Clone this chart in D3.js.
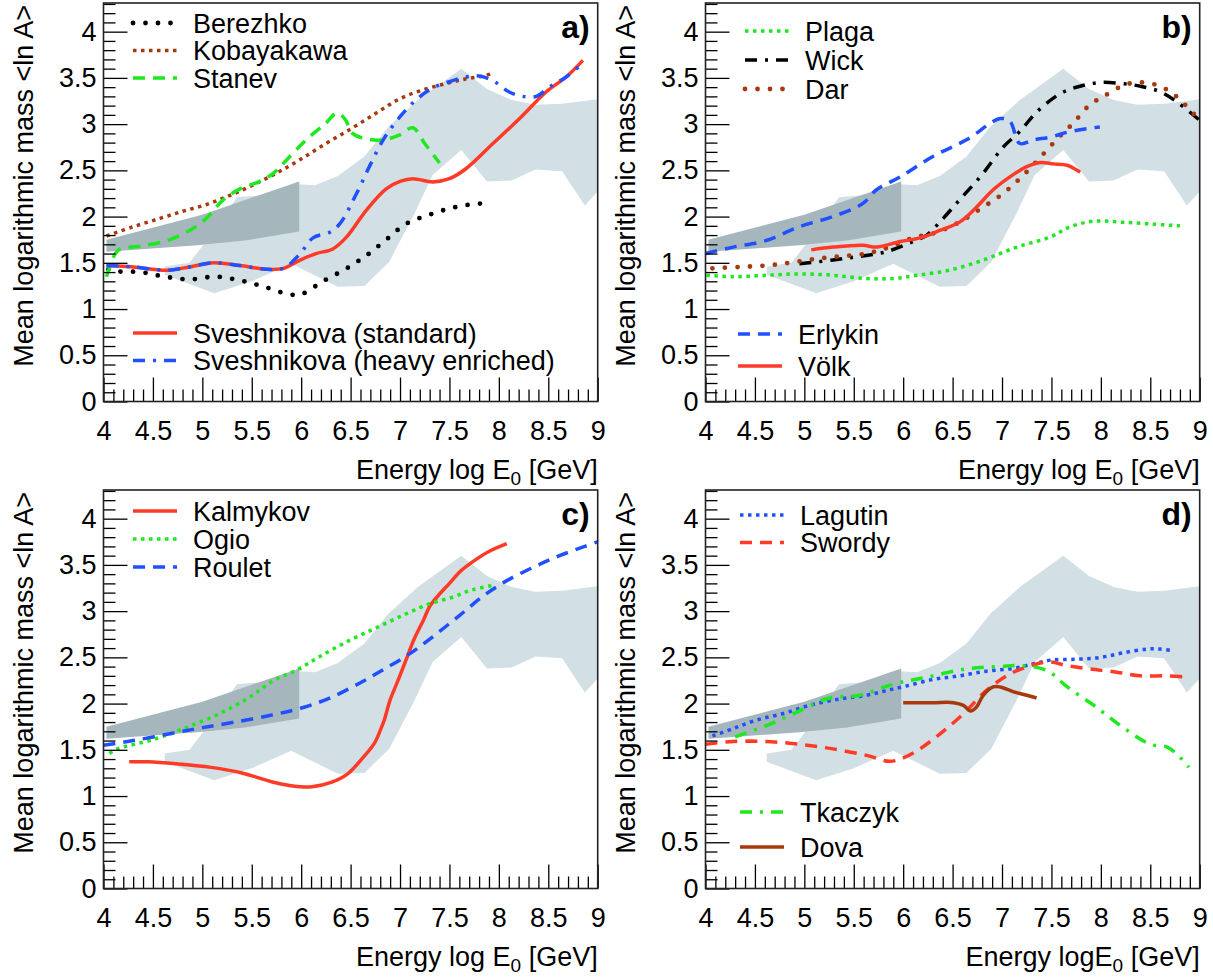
<!DOCTYPE html>
<html>
<head>
<meta charset="utf-8">
<script src="https://cdn.jsdelivr.net/npm/d3@7"></script>
<style>
  body { margin: 0; background: #fff; }
  svg { display: block; font-family: "Liberation Sans", Arial, Helvetica, sans-serif; }
</style>
</head>
<body>
<div id="chart"></div>
<script>
// axis ticks
const xMajor = [4, 4.5, 5, 5.5, 6, 6.5, 7, 7.5, 8, 8.5, 9];
const xTickLabels = ["4", "4.5", "5", "5.5", "6", "6.5", "7", "7.5", "8", "8.5", "9"];
const yMajor = [0, 0.5, 1, 1.5, 2, 2.5, 3, 3.5, 4];
const yTickLabels = ["0", "0.5", "1", "1.5", "2", "2.5", "3", "3.5", "4"];

// measured band (light) and direct-measurement band (dark)
const lightUpper = [[4.62, 1.46], [4.87, 1.50], [5.05, 1.75], [5.35, 2.21], [5.6, 2.23], [5.97, 2.35], [6.14, 2.34],
  [6.37, 2.44], [6.64, 2.65], [6.88, 2.97], [7.18, 3.26], [7.62, 3.6], [7.88, 3.38], [8.13, 3.26], [8.37, 3.21],
  [8.64, 3.22], [9.0, 3.27]];
const lightLower = [[4.62, 1.37], [4.87, 1.27], [5.12, 1.17], [5.5, 1.3], [5.9, 1.49], [6.37, 1.24], [6.64, 1.25],
  [6.89, 1.51], [7.14, 2.02], [7.33, 2.45], [7.62, 2.72], [7.88, 2.38], [8.13, 2.39], [8.37, 2.51], [8.64, 2.49],
  [8.87, 2.12], [9.0, 2.27]];
const darkUpper = [[4.03, 1.75], [5.0, 2.02], [5.98, 2.38]];
const darkLower = [[4.03, 1.62], [4.95, 1.69], [5.43, 1.74], [5.98, 1.84]];

// panel a
const berezhko = [[4.05, 1.43], [4.10, 1.41], [4.37, 1.40], [4.62, 1.35], [4.87, 1.32], [5.13, 1.35], [5.38, 1.31],
  [5.63, 1.24], [5.87, 1.16], [6.0, 1.16], [6.22, 1.30], [6.46, 1.44], [6.66, 1.58], [6.86, 1.75], [7.06, 1.92],
  [7.31, 2.025], [7.55, 2.10], [7.80, 2.14], [7.90, 2.135]];
const kobayakawa = [[4.03, 1.79], [4.30, 1.89], [4.57, 1.98], [4.81, 2.06], [5.04, 2.13], [5.28, 2.23], [5.51, 2.34],
  [5.75, 2.47], [5.98, 2.61], [6.25, 2.79], [6.52, 2.96], [6.76, 3.12], [6.99, 3.27], [7.23, 3.37], [7.47, 3.44],
  [7.67, 3.49], [7.84, 3.52], [7.94, 3.55]];
const stanev = [[4.03, 1.35], [4.12, 1.6], [4.17, 1.65], [4.37, 1.68], [4.64, 1.74], [4.87, 1.85], [5.04, 1.98],
  [5.21, 2.18], [5.38, 2.3], [5.58, 2.38], [5.72, 2.47], [5.85, 2.61], [6.05, 2.83], [6.25, 3.01], [6.36, 3.12],
  [6.44, 3.06], [6.52, 2.9], [6.66, 2.84], [6.83, 2.83], [6.99, 2.88], [7.13, 2.96], [7.25, 2.79], [7.4, 2.58]];
const sveshStandard = [[4.03, 1.47], [4.30, 1.455], [4.64, 1.42], [4.87, 1.455], [5.11, 1.50], [5.38, 1.47],
  [5.65, 1.43], [5.82, 1.44], [5.99, 1.53], [6.15, 1.6], [6.32, 1.65], [6.46, 1.78], [6.66, 2.07], [6.86, 2.30],
  [7.0, 2.38], [7.13, 2.41], [7.33, 2.375], [7.5, 2.41], [7.67, 2.52], [7.94, 2.79], [8.21, 3.06], [8.48, 3.35],
  [8.68, 3.51], [8.85, 3.69]];
const sveshHeavy = [[4.03, 1.47], [4.30, 1.455], [4.64, 1.42], [4.87, 1.455], [5.11, 1.50], [5.38, 1.47],
  [5.65, 1.43], [5.82, 1.44], [5.99, 1.6], [6.12, 1.77], [6.29, 1.83], [6.39, 1.92], [6.56, 2.25], [6.69, 2.54],
  [6.83, 2.83], [7.0, 3.08], [7.16, 3.26], [7.33, 3.39], [7.5, 3.46], [7.67, 3.51], [7.8, 3.52], [7.94, 3.47],
  [8.1, 3.35], [8.24, 3.30], [8.38, 3.30], [8.51, 3.40], [8.68, 3.51], [8.85, 3.66]];

// panel b
const plaga = [[4.01, 1.365], [4.28, 1.35], [4.61, 1.365], [4.95, 1.38], [5.29, 1.365], [5.63, 1.33], [5.90, 1.33],
  [6.14, 1.365], [6.47, 1.42], [6.81, 1.53], [7.15, 1.67], [7.49, 1.78], [7.69, 1.89], [7.93, 1.95], [8.2, 1.94],
  [8.5, 1.92], [8.80, 1.90]];
const wick = [[4.95, 1.49], [5.29, 1.53], [5.56, 1.57], [5.83, 1.62], [6.1, 1.73], [6.24, 1.80], [6.37, 1.94],
  [6.57, 2.18], [6.81, 2.47], [7.01, 2.75], [7.18, 2.92], [7.35, 3.13], [7.59, 3.33], [7.79, 3.41], [7.99, 3.45],
  [8.2, 3.44], [8.4, 3.41], [8.6, 3.35], [8.77, 3.24], [9.0, 3.04]];
const dar = [[4.07, 1.44], [4.34, 1.455], [4.61, 1.47], [4.85, 1.5], [5.1, 1.54], [5.36, 1.57], [5.63, 1.6],
  [5.86, 1.67], [6.1, 1.77], [6.34, 1.83], [6.57, 1.94], [6.79, 2.09], [7.0, 2.24], [7.18, 2.41], [7.37, 2.62],
  [7.55, 2.83], [7.72, 3.01], [7.89, 3.21], [8.03, 3.30], [8.23, 3.42], [8.36, 3.45], [8.5, 3.44], [8.62, 3.40],
  [8.74, 3.32], [8.87, 3.19], [9.0, 3.04]];
const erlykin = [[4.0, 1.60], [4.28, 1.67], [4.61, 1.74], [4.95, 1.89], [5.29, 2.0], [5.59, 2.14], [5.73, 2.29],
  [5.97, 2.43], [6.30, 2.65], [6.64, 2.83], [6.98, 3.06], [7.08, 3.03], [7.18, 2.79], [7.32, 2.83], [7.49, 2.86],
  [7.69, 2.92], [7.99, 2.97]];
const volk = [[5.07, 1.64], [5.29, 1.67], [5.59, 1.69], [5.73, 1.67], [5.97, 1.73], [6.17, 1.77], [6.37, 1.85],
  [6.57, 1.94], [6.74, 2.10], [6.91, 2.29], [7.08, 2.43], [7.25, 2.54], [7.39, 2.585], [7.52, 2.57], [7.66, 2.555],
  [7.79, 2.48]];

// panel c
const kalmykov = [[4.26, 1.37], [4.45, 1.37], [4.73, 1.35], [5.09, 1.31], [5.40, 1.25], [5.72, 1.15], [5.99, 1.10],
  [6.11, 1.10], [6.31, 1.15], [6.47, 1.24], [6.62, 1.41], [6.74, 1.57], [6.80, 1.71], [6.84, 1.82], [6.9, 2.04],
  [6.98, 2.25], [7.06, 2.47], [7.14, 2.69], [7.24, 2.91], [7.30, 3.05], [7.38, 3.16], [7.5, 3.30], [7.61, 3.43],
  [7.73, 3.53], [7.89, 3.64], [8.08, 3.73]];
const ogio = [[4.06, 1.46], [4.14, 1.51], [4.5, 1.61], [4.81, 1.73], [5.17, 1.89], [5.48, 2.07], [5.72, 2.25],
  [5.95, 2.36], [6.19, 2.51], [6.5, 2.69], [6.78, 2.83], [7.06, 2.97], [7.3, 3.08], [7.53, 3.15], [7.73, 3.23],
  [7.95, 3.28]];
const roulet = [[4.0, 1.55], [4.3, 1.6], [4.7, 1.68], [5.0, 1.74], [5.33, 1.8], [5.72, 1.88], [6.03, 1.96],
  [6.31, 2.07], [6.59, 2.22], [6.82, 2.36], [7.1, 2.54], [7.34, 2.73], [7.61, 2.96], [7.85, 3.17], [8.08, 3.33],
  [8.36, 3.48], [8.59, 3.59], [8.87, 3.70], [9.0, 3.75]];

// panel d
const lagutin = [[4.07, 1.65], [4.28, 1.73], [4.51, 1.82], [4.78, 1.89], [5.05, 1.98], [5.36, 2.05], [5.63, 2.09],
  [5.83, 2.14], [6.03, 2.19], [6.3, 2.26], [6.57, 2.30], [6.84, 2.35], [7.11, 2.38], [7.32, 2.43], [7.49, 2.47],
  [7.76, 2.48], [8.0, 2.50], [8.23, 2.55], [8.47, 2.59], [8.6, 2.59], [8.74, 2.57]];
const swordy = [[4.0, 1.56], [4.28, 1.59], [4.61, 1.59], [4.95, 1.56], [5.29, 1.51], [5.63, 1.44], [5.86, 1.375],
  [5.97, 1.40], [6.14, 1.49], [6.37, 1.67], [6.61, 1.89], [6.84, 2.14], [7.08, 2.32], [7.32, 2.42], [7.49, 2.45],
  [7.66, 2.41], [7.89, 2.375], [8.16, 2.34], [8.4, 2.30], [8.67, 2.30], [8.89, 2.285]];
const tkaczyk = [[4.3, 1.64], [4.61, 1.76], [4.89, 1.89], [5.22, 2.05], [5.56, 2.09], [5.90, 2.21], [6.24, 2.285],
  [6.64, 2.375], [6.98, 2.40], [7.18, 2.41], [7.45, 2.36], [7.66, 2.18], [7.93, 1.98], [8.2, 1.76], [8.5, 1.56],
  [8.67, 1.53], [8.8, 1.42], [8.89, 1.31]];
const dova = [[6.0, 2.01], [6.30, 2.01], [6.51, 2.01], [6.61, 1.98], [6.68, 1.92], [6.74, 1.96], [6.81, 2.09],
  [6.91, 2.18], [6.98, 2.18], [7.11, 2.13], [7.25, 2.09], [7.35, 2.06]];

const RED = "#ff3a26", GREEN = "#1ee81e", BLUE = "#2050ff", BROWN = "#a8380e", BLACK = "#000";

const styles = {
  dotsRound: { width: 4.8, dash: "0 12.5", cap: "round" },
  dotsSmall: { width: 3.5, dash: "3.5 4.5", cap: "butt" },
  dashed: { width: 3.5, dash: "12 8", cap: "butt" },
  dashDot: { width: 3.5, dash: "12 8 3 8", cap: "butt" },
  solid: { width: 3.5, dash: null, cap: "butt" }
};

const panels = [
  {
    x0: 103.5, y0: 3, label: "a)", logSpace: true,
    series: [
      { name: "Berezhko", data: berezhko, color: BLACK, style: "dotsRound" },
      { name: "Kobayakawa", data: kobayakawa, color: BROWN, style: "dotsSmall" },
      { name: "Stanev", data: stanev, color: GREEN, style: "dashed" },
      { name: "Sveshnikova (standard)", data: sveshStandard, color: RED, style: "solid" },
      { name: "Sveshnikova (heavy enriched)", data: sveshHeavy, color: BLUE, style: "dashDot" }
    ],
    legends: [
      { x: 133, y: 23, step: 27.5, items: [0, 1, 2] },
      { x: 133, y: 333, step: 27.5, items: [3, 4] }
    ]
  },
  {
    x0: 705.5, y0: 3, label: "b)", logSpace: true,
    series: [
      { name: "Plaga", data: plaga, color: GREEN, style: "dotsSmall" },
      { name: "Wick", data: wick, color: BLACK, style: "dashDot" },
      { name: "Dar", data: dar, color: BROWN, style: "dotsRound" },
      { name: "Erlykin", data: erlykin, color: BLUE, style: "dashed" },
      { name: "Völk", data: volk, color: RED, style: "solid" }
    ],
    legends: [
      { x: 745, y: 31, step: 29, items: [0, 1, 2] },
      { x: 738, y: 334, step: 32, items: [3, 4] }
    ]
  },
  {
    x0: 103.5, y0: 490, label: "c)", logSpace: true,
    series: [
      { name: "Kalmykov", data: kalmykov, color: RED, style: "solid" },
      { name: "Ogio", data: ogio, color: GREEN, style: "dotsSmall" },
      { name: "Roulet", data: roulet, color: BLUE, style: "dashed" }
    ],
    legends: [
      { x: 133, y: 511, step: 28, items: [0, 1, 2] }
    ]
  },
  {
    x0: 705.5, y0: 490, label: "d)", logSpace: false,
    series: [
      { name: "Lagutin", data: lagutin, color: BLUE, style: "dotsSmall" },
      { name: "Swordy", data: swordy, color: RED, style: "dashed" },
      { name: "Tkaczyk", data: tkaczyk, color: GREEN, style: "dashDot" },
      { name: "Dova", data: dova, color: BROWN, style: "solid" }
    ],
    legends: [
      { x: 740, y: 515, step: 27.5, items: [0, 1] },
      { x: 740, y: 812, step: 35, items: [2, 3] }
    ]
  }
];

const W = 1213, H = 977;
const plotW = 494.2, plotH = 398.5;
const FONT = 27;

const svg = d3.select("#chart").append("svg")
  .attr("width", W)
  .attr("height", H);

panels.forEach(p => {
  const x = d3.scaleLinear().domain([4, 9]).range([p.x0, p.x0 + plotW]);
  const y = d3.scaleLinear().domain([0, 4.31]).range([p.y0 + plotH, p.y0]);
  const g = svg.append("g");

  const clipId = "clip" + p.label[0];
  g.append("clipPath").attr("id", clipId)
    .append("rect")
    .attr("x", p.x0).attr("y", p.y0)
    .attr("width", plotW).attr("height", plotH);

  const poly = d3.line().x(d => x(d[0])).y(d => y(d[1]));

  // bands
  g.append("path")
    .attr("d", poly(lightUpper.concat(lightLower.slice().reverse())) + "Z")
    .attr("fill", "#d2dfe5");
  g.append("path")
    .attr("d", poly(darkUpper.concat(darkLower.slice().reverse())) + "Z")
    .attr("fill", "#a5b7bd");

  // model curves
  const curve = d3.line()
    .x(d => x(d[0]))
    .y(d => y(d[1]))
    .curve(d3.curveCatmullRom.alpha(0.5));

  p.series.forEach(s => {
    const st = styles[s.style];
    g.append("path")
      .attr("clip-path", `url(#${clipId})`)
      .attr("d", curve(s.data))
      .attr("fill", "none")
      .attr("stroke", s.color)
      .attr("stroke-width", st.width)
      .attr("stroke-linecap", st.cap)
      .attr("stroke-linejoin", "round")
      .attr("stroke-dasharray", st.dash);
  });

  // axes (ticks pointing into the frame)
  const minorX = d3.range(40, 91).map(v => v / 10).filter(v => !xMajor.includes(v));
  const minorY = d3.range(0, 44).map(v => v / 10).filter(v => !yMajor.includes(v));

  g.append("g")
    .attr("transform", `translate(0,${p.y0 + plotH})`)
    .call(d3.axisBottom(x).tickValues(xMajor)
      .tickFormat((d, i) => xTickLabels[i])
      .tickSizeInner(-24).tickSizeOuter(0).tickPadding(19));
  g.append("g")
    .attr("transform", `translate(0,${p.y0 + plotH})`)
    .call(d3.axisBottom(x).tickValues(minorX).tickFormat("")
      .tickSizeInner(-12).tickSizeOuter(0));

  g.append("g")
    .attr("transform", `translate(${p.x0},0)`)
    .call(d3.axisLeft(y).tickValues(yMajor)
      .tickFormat((d, i) => yTickLabels[i])
      .tickSizeInner(-24).tickSizeOuter(0).tickPadding(7));
  g.append("g")
    .attr("transform", `translate(${p.x0},0)`)
    .call(d3.axisLeft(y).tickValues(minorY).tickFormat("")
      .tickSizeInner(-12).tickSizeOuter(0));

  g.selectAll(".domain").remove();
  g.selectAll(".tick line").attr("stroke", "#000").attr("stroke-width", 1.3);
  g.selectAll(".tick text")
    .attr("font-family", "'Liberation Sans', Arial, sans-serif")
    .attr("font-size", FONT)
    .attr("fill", "#000");

  // frame
  g.append("rect")
    .attr("x", p.x0).attr("y", p.y0)
    .attr("width", plotW).attr("height", plotH)
    .attr("fill", "none")
    .attr("stroke", "#222")
    .attr("stroke-width", 1.6);

  // axis titles
  const xt = g.append("text")
    .attr("x", p.x0 + plotW)
    .attr("y", p.y0 + plotH + 77)
    .attr("text-anchor", "end")
    .attr("font-size", FONT);
  xt.append("tspan").text(p.logSpace ? "Energy log E" : "Energy logE");
  xt.append("tspan").attr("dy", 6).attr("font-size", 19).text("0");
  xt.append("tspan").attr("dy", -6).text(" [GeV]");

  g.append("text")
    .attr("transform", `translate(${p.x0 - 71},${p.y0 + 2}) rotate(-90)`)
    .attr("text-anchor", "end")
    .attr("font-size", FONT)
    .text("Mean logarithmic mass <ln A>");

  // panel label
  g.append("text")
    .attr("x", p.x0 + plotW - 8)
    .attr("y", p.y0 + 35)
    .attr("text-anchor", "end")
    .attr("font-size", 32)
    .attr("font-weight", "bold")
    .text(p.label);

  // legends
  p.legends.forEach(lg => {
    lg.items.forEach((idx, k) => {
      const s = p.series[idx];
      const st = styles[s.style];
      const cy = lg.y + k * lg.step;
      g.append("line")
        .attr("x1", lg.x).attr("x2", lg.x + 44)
        .attr("y1", cy).attr("y2", cy)
        .attr("stroke", s.color)
        .attr("stroke-width", st.width)
        .attr("stroke-linecap", st.cap)
        .attr("stroke-dasharray", st.dash);
      g.append("text")
        .attr("x", lg.x + 60)
        .attr("y", cy + 9.5)
        .attr("font-size", FONT)
        .text(s.name);
    });
  });
});
</script>
</body>
</html>
